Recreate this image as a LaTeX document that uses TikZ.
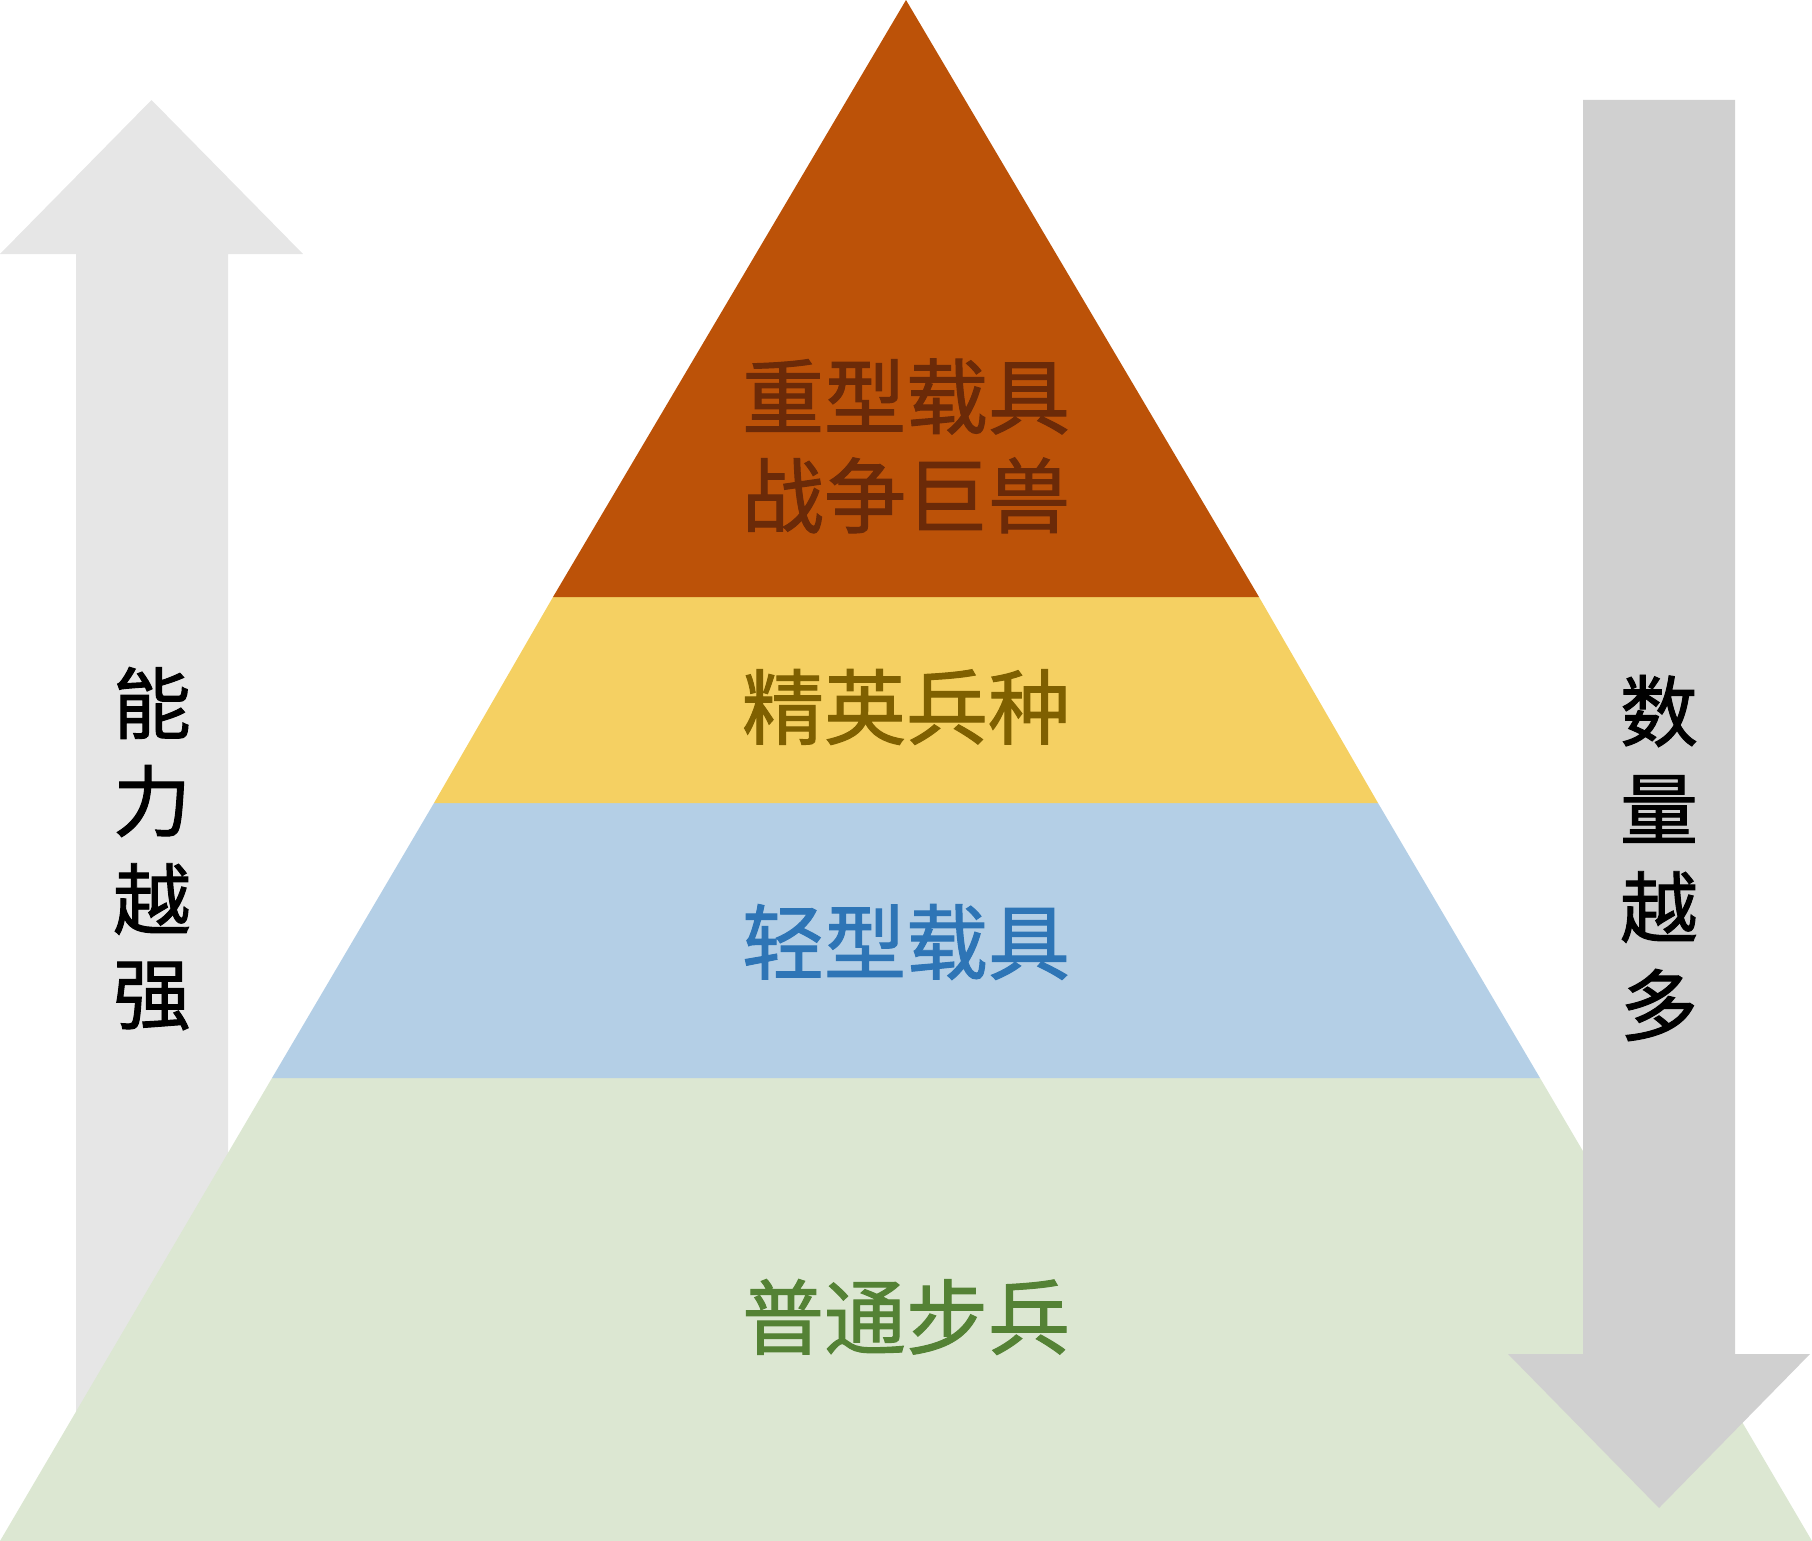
\documentclass[tikz,border=0pt]{standalone}
\usepackage{fontspec}
\newfontfamily\cjk[FakeBold=1.2]{Noto Sans CJK SC}
\definecolor{cTop}{HTML}{BC5208}
\definecolor{cYel}{HTML}{F5D062}
\definecolor{cBlu}{HTML}{B4CFE6}
\definecolor{cGrn}{HTML}{DCE7D2}
\definecolor{tTop}{HTML}{6B2A08}
\definecolor{tYel}{HTML}{7F6000}
\definecolor{tBlu}{HTML}{2E75B6}
\definecolor{tGrn}{HTML}{548235}
\definecolor{aLeft}{HTML}{E6E6E6}
\definecolor{aRight}{HTML}{D0D0D0}
\tikzset{
  band/.style={draw=none},
  lvl/.style={inner sep=0pt, align=center, font=\cjk\fontsize{82}{99}\selectfont},
  side/.style={inner sep=0pt, font=\cjk\fontsize{78}{98}\selectfont, text=black},
}
\begin{document}
\begin{tikzpicture}[x=1pt,y=-1pt]
\useasboundingbox (0,0) rectangle (1812,1541);
% left arrow (behind pyramid)
\fill[aLeft] (151.5,100) -- (303,254) -- (228,254) -- (228,1541) -- (76,1541) -- (76,254) -- (0,254) -- cycle;
% pyramid bands
\fill[band,cGrn] (272,1078) -- (1540,1078) -- (1812,1541) -- (0,1541) -- cycle;
\fill[band,cBlu] (434,803) -- (1378,803) -- (1540,1078) -- (272,1078) -- cycle;
\fill[band,cYel] (553,597) -- (1259,597) -- (1378,803) -- (434,803) -- cycle;
\fill[band,cTop] (906,0) -- (1259,597) -- (553,597) -- cycle;
% right arrow (in front)
\fill[aRight] (1583,100) -- (1735,100) -- (1735,1354) -- (1810,1354) -- (1659,1508) -- (1508,1354) -- (1583,1354) -- cycle;
% level labels
\node[lvl,text=tTop] (heavy) at (906,446) {重型载具\\战争巨兽};
\node[lvl,text=tYel] (elite) at (906,707) {精英兵种};
\node[lvl,text=tBlu] (light) at (906,942) {轻型载具};
\node[lvl,text=tGrn] (inf) at (906,1317) {普通步兵};
% side labels
\node[side] (l1) at (152,703) {能};
\node[side] (l2) at (152,801) {力};
\node[side] (l3) at (152,899) {越};
\node[side] (l4) at (152,996) {强};
\node[side] (r1) at (1659,711) {数};
\node[side] (r2) at (1659,809) {量};
\node[side] (r3) at (1659,907) {越};
\node[side] (r4) at (1659,1005) {多};
\end{tikzpicture}
\end{document}
